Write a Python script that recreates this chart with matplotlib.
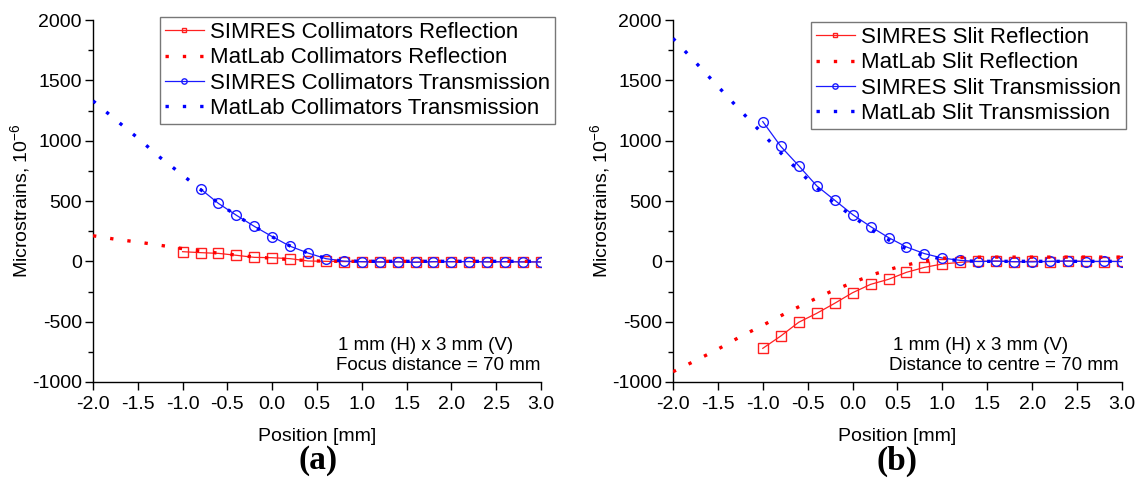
import matplotlib
matplotlib.use("Agg")
import matplotlib.pyplot as plt
from matplotlib.ticker import MultipleLocator

plt.rcParams['font.family'] = ['Liberation Sans', 'DejaVu Sans']
plt.rcParams['axes.unicode_minus'] = False
plt.rcParams['mathtext.fontset'] = 'custom'
plt.rcParams['mathtext.rm'] = 'Liberation Sans'
plt.rcParams['mathtext.default'] = 'regular'

# ---- Panel (a): Collimators ----
sim_x_a_refl = [-1.0, -0.8, -0.6, -0.4, -0.2, 0.0, 0.2, 0.4, 0.6, 0.8, 1.0, 1.2, 1.4, 1.6, 1.8, 2.0, 2.2, 2.4, 2.6, 2.8, 3.0]
sim_a_refl = [80, 72, 66, 50, 33, 30, 22, 3, 0, -2, -3, -5, -4, -6, -3, -3, -2, -4, -3, -4, -5]
sim_x_a_trans = [-0.8, -0.6, -0.4, -0.2, 0.0, 0.2, 0.4, 0.6, 0.8, 1.0, 1.2, 1.4, 1.6, 1.8, 2.0, 2.2, 2.4, 2.6, 2.8, 3.0]
sim_a_trans = [600, 480, 382, 290, 205, 125, 69, 22, 2, -3, -5, -5, -8, -3, -3, -2, -5, -3, -5, -5]
mat_x = [-2.0, -1.75, -1.5, -1.25, -1.0, -0.75, -0.5, -0.25, 0.0, 0.25, 0.5, 0.75, 1.0,
         1.25, 1.5, 1.75, 2.0, 2.25, 2.5, 2.75, 3.0]
mat_a_refl = [212, 183, 160, 133, 105, 80, 60, 40, 25, 12, 3, 0, 0,
              0, 0, 0, 0, 0, 0, 0, 0]
mat_a_trans = [1330, 1175, 1022, 860, 715, 565, 430, 310, 203, 108, 44, 5, 0,
               0, 0, 0, 0, 0, 0, 0, 0]

# ---- Panel (b): Slit ----
sim_x_b = [-1.0, -0.8, -0.6, -0.4, -0.2, 0.0, 0.2, 0.4, 0.6, 0.8, 1.0, 1.2, 1.4, 1.6, 1.8, 2.0, 2.2, 2.4, 2.6, 2.8, 3.0]
sim_b_refl = [-721, -619, -505, -431, -348, -260, -191, -149, -91, -50, -22, -8, 0, 2, -3, 0, -2, 2, 0, -2, 0]
sim_b_trans = [1158, 953, 792, 626, 507, 388, 288, 197, 119, 64, 27, 8, -2, 2, -3, -5, 0, 3, -2, 0, -2]
mat_b_refl = [-915, -823, -728, -624, -530, -432, -340, -253, -176, -104, -48, -5, 26,
              33, 35, 35, 35, 35, 35, 35, 35]
mat_b_trans = [1848, 1650, 1450, 1250, 1055, 860, 678, 510, 372, 242, 135, 58, 18,
               3, 0, 0, 0, 0, 0, 0, 0]

labels_a = ["SIMRES Collimators Reflection", "MatLab Collimators Reflection",
            "SIMRES Collimators Transmission", "MatLab Collimators Transmission"]
labels_b = ["SIMRES Slit Reflection", "MatLab Slit Reflection",
            "SIMRES Slit Transmission", "MatLab Slit Transmission"]
notes_a = ["1 mm (H) x 3 mm (V)", "Focus distance = 70 mm"]
notes_b = ["1 mm (H) x 3 mm (V)", "Distance to centre = 70 mm"]

RED = '#ff2020'
BLUE = '#1a1aff'

fig = plt.figure(figsize=(11.4, 4.8), dpi=100)
ax_a = fig.add_axes([93/1140, 98/480, 448/1140, 362/480])
ax_b = fig.add_axes([673/1140, 98/480, 449/1140, 362/480])

dot = (0, (1, 4.2))


def draw(ax, sx_r, sr, sx_t, st, mr, mt, labels, legend_box):
    ax.plot(sx_r, sr, color=RED, lw=0.9, marker='s', ms=6.5, mfc='none', mec=RED, mew=1.0,
            label=labels[0], zorder=3)
    ax.plot(mat_x, mr, color='red', lw=2.4, linestyle=dot, label=labels[1], zorder=4)
    ax.plot(sx_t, st, color=BLUE, lw=0.9, marker='o', ms=7, mfc='none', mec=BLUE, mew=1.0,
            label=labels[2], zorder=3)
    ax.plot(mat_x, mt, color='blue', lw=2.4, linestyle=dot, label=labels[3], zorder=4)
    ax.set_xlim(-2.0, 3.0)
    ax.set_ylim(-1000, 2000)
    ax.xaxis.set_major_locator(MultipleLocator(0.5))
    ax.yaxis.set_major_locator(MultipleLocator(500))
    ax.yaxis.set_minor_locator(MultipleLocator(250))
    ax.xaxis.set_major_formatter(plt.FuncFormatter(lambda v, p: f"{v:.1f}"))
    for s in ('top', 'right'):
        ax.spines[s].set_visible(False)
    ax.spines['left'].set_linewidth(1.0)
    ax.spines['bottom'].set_linewidth(1.0)
    ax.tick_params(axis='both', which='major', direction='out', length=6, width=1.0,
                   labelsize=14, pad=2)
    ax.tick_params(axis='x', which='major', pad=4)
    ax.tick_params(axis='y', which='minor', direction='out', length=3.5, width=1.0)
    ax.set_xlabel("Position [mm]", fontsize=14, labelpad=11)
    ax.set_ylabel("Microstrains, 10$^{-6}$", fontsize=14, labelpad=0)
    leg = ax.legend(loc='upper left', bbox_to_anchor=legend_box, bbox_transform=fig.transFigure,
                    fontsize=16, frameon=True, fancybox=False, edgecolor='#555555',
                    handlelength=1.75, handletextpad=0.3, labelspacing=0.2,
                    borderpad=0.22, borderaxespad=0.0, markerscale=0.55)
    leg.get_frame().set_linewidth(1.0)
    return ax


draw(ax_a, sim_x_a_refl, sim_a_refl, sim_x_a_trans, sim_a_trans, mat_a_refl, mat_a_trans,
     labels_a, (160/1140, 1 - 17/480))
draw(ax_b, sim_x_b, sim_b_refl, sim_x_b, sim_b_trans, mat_b_refl, mat_b_trans,
     labels_b, (811/1140, 1 - 22/480))

fig.text(338/1140, 1 - 345/480, notes_a[0], fontsize=13.5, va='center', ha='left')
fig.text(336/1140, 1 - 366/480, notes_a[1], fontsize=13.5, va='center', ha='left')
fig.text(893/1140, 1 - 345/480, notes_b[0], fontsize=13.5, va='center', ha='left')
fig.text(889/1140, 1 - 366/480, notes_b[1], fontsize=13.5, va='center', ha='left')

fig.text(318/1140, 1 - 461/480, "(a)", fontsize=24, fontweight='bold',
         family='Liberation Serif', ha='center', va='center')
fig.text(897/1140, 1 - 461/480, "(b)", fontsize=24, fontweight='bold',
         family='Liberation Serif', ha='center', va='center')

fig.savefig("out.png", dpi=100)
